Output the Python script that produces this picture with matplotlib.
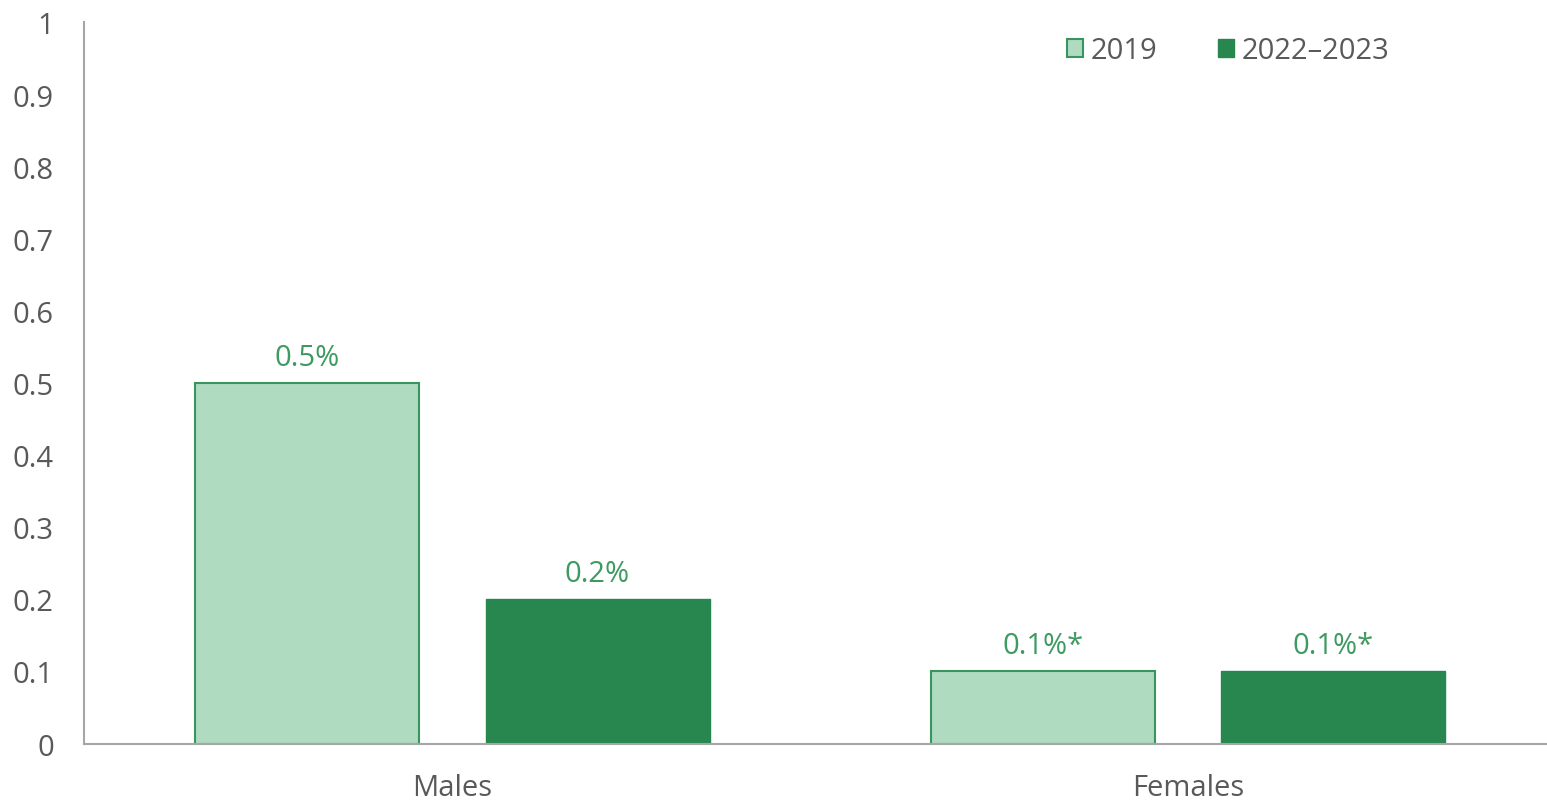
import matplotlib.pyplot as plt
import numpy as np

plt.rcParams["font.family"] = ["Open Sans", "DejaVu Sans"]

categories = ["Males", "Females"]
years = ["2019", "2022\u20132023"]
values_2019 = [0.5, 0.1]
values_2022 = [0.2, 0.1]
labels_2019 = ["0.5%", "0.1%*"]
labels_2022 = ["0.2%", "0.1%*"]
y_ticks = [0, 0.1, 0.2, 0.3, 0.4, 0.5, 0.6, 0.7, 0.8, 0.9, 1]
y_tick_labels = ["0", "0.1", "0.2", "0.3", "0.4", "0.5", "0.6", "0.7", "0.8", "0.9", "1"]

light = "#afdbc0"
light_edge = "#3a9460"
dark = "#27874f"
label_green = "#3d9a60"
grey_text = "#595959"
axis_grey = "#a6a6a6"

fig = plt.figure(figsize=(15.47, 8.03), dpi=100)
# axes run slightly past the right edge of the figure
ax = fig.add_axes([0.0546, 0.0728, 0.951, 0.898])

x = np.arange(len(categories))
width = 0.3046
offset = 0.1975

bars1 = ax.bar(x - offset, values_2019, width, color=light,
               edgecolor=light_edge, linewidth=1.5, label=years[0])
bars2 = ax.bar(x + offset, values_2022, width, color=dark,
               edgecolor=dark, linewidth=1.0, label=years[1])

for bars, labels in [(bars1, labels_2019), (bars2, labels_2022)]:
    for b, lab in zip(bars, labels):
        ax.annotate(lab, (b.get_x() + b.get_width() / 2, b.get_height()),
                    xytext=(0, 8), textcoords="offset points",
                    ha="center", va="bottom", fontsize=21, color=label_green)

ax.set_xlim(-0.5, 1.5)
ax.set_ylim(0, 1)
ax.set_xticks(x)
ax.set_xticklabels(categories)
ax.set_yticks(y_ticks)
ax.set_yticklabels(y_tick_labels)
ax.tick_params(axis="y", length=0, pad=22, labelsize=21, labelcolor=grey_text)
ax.tick_params(axis="x", length=0, pad=21, labelsize=21, labelcolor=grey_text)

for side in ["top", "right"]:
    ax.spines[side].set_visible(False)
for side in ["left", "bottom"]:
    ax.spines[side].set_color(axis_grey)
    ax.spines[side].set_linewidth(1.5)

leg = ax.legend(loc="center left", bbox_to_anchor=(0.660, 0.961), ncol=2,
                frameon=False, fontsize=21, handlelength=0.55, handleheight=0.55,
                handletextpad=0.25, columnspacing=2.1, borderaxespad=0)
for t in leg.get_texts():
    t.set_color(grey_text)

fig.savefig("out.png", dpi=100)
